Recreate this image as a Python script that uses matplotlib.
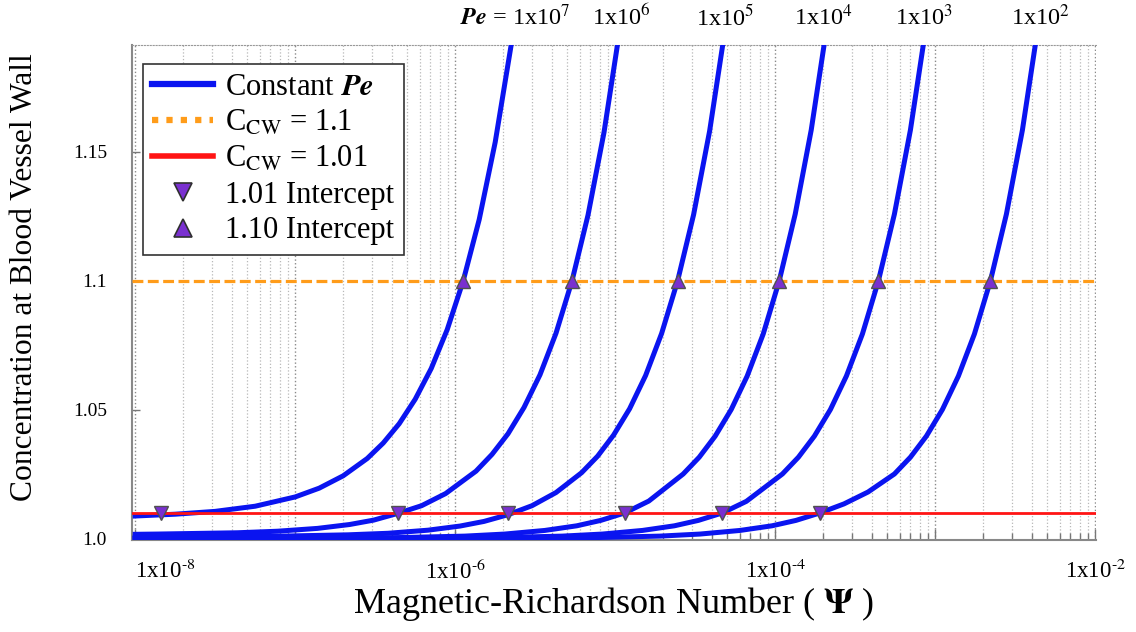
import numpy as np
import matplotlib
matplotlib.use('Agg')
import matplotlib.pyplot as plt
from matplotlib.lines import Line2D
from matplotlib.ticker import FixedLocator, NullFormatter

plt.rcParams['font.family'] = ['Liberation Serif', 'DejaVu Serif']
plt.rcParams['mathtext.fontset'] = 'stix'

# Peclet numbers of the curves (labels on top)
pe_labels = [r'$\mathbfit{Pe}$ = 1x10$^{7}$', r'1x10$^{6}$', r'1x10$^{5}$',
             r'1x10$^{4}$', r'1x10$^{3}$', r'1x10$^{2}$']

# curves: log10(Psi) and wall concentration
lpsi_pe7 = [-8.0, -7.75, -7.5, -7.25, -7.0, -6.85, -6.7, -6.55, -6.45, -6.35, -6.25, -6.15,
            -6.05, -5.95, -5.85, -5.75, -5.65, -5.6]
c_pe7 = [1.0088, 1.0095, 1.0106, 1.0126, 1.0162, 1.0196, 1.0244, 1.0311, 1.0371, 1.0446, 1.0541, 1.066,
         1.0811, 1.100, 1.1238, 1.1538, 1.1916, 1.214]

lpsi_pe6 = [-8.0, -7.86, -7.36, -7.11, -6.86, -6.66, -6.51, -6.36, -6.21, -6.06, -5.87, -5.77,
            -5.67, -5.57, -5.47, -5.37, -5.27, -5.17, -5.07, -4.97]
c_pe6 = [1.0017, 1.0018, 1.0023, 1.0029, 1.0040, 1.0055, 1.0072, 1.0098, 1.0128, 1.0175, 1.0262, 1.0327,
         1.0407, 1.0509, 1.0636, 1.0797, 1.1000, 1.1255, 1.1576, 1.1980]

lpsi_pe5 = [-8.0, -7.17, -6.67, -6.42, -6.17, -5.97, -5.82, -5.67, -5.52, -5.37, -5.21, -5.11,
            -5.01, -4.91, -4.81, -4.71, -4.61, -4.51, -4.41, -4.31]
c_pe5 = [1.0006, 1.0009, 1.0015, 1.0021, 1.0033, 1.0049, 1.0067, 1.0093, 1.0128, 1.0179, 1.0256, 1.0320,
         1.0402, 1.0504, 1.0633, 1.0796, 1.1000, 1.1257, 1.1581, 1.1989]

lpsi_pe4 = [-8.0, -6.44, -5.94, -5.69, -5.44, -5.24, -5.09, -4.94, -4.79, -4.575, -4.475,
            -4.375, -4.275, -4.175, -4.075, -3.975, -3.875, -3.775, -3.675]
c_pe4 = [1.0001, 1.0003, 1.0010, 1.0018, 1.0032, 1.0050, 1.0071, 1.0100, 1.0146, 1.0251, 1.0316,
         1.0398, 1.0501, 1.0631, 1.0794, 1.1000, 1.1259, 1.1585, 1.1995]

lpsi_pe3 = [-8.0, -5.83, -5.33, -5.08, -4.83, -4.63, -4.48, -4.33, -4.18, -3.955, -3.855,
            -3.755, -3.655, -3.555, -3.455, -3.355, -3.255, -3.155, -3.055]
c_pe3 = [1.0000, 1.0003, 1.0010, 1.0018, 1.0032, 1.0050, 1.0071, 1.0100, 1.0145, 1.0251, 1.0316,
         1.0398, 1.0501, 1.0631, 1.0794, 1.1000, 1.1259, 1.1585, 1.1995]

lpsi_pe2 = [-8.0, -5.22, -4.72, -4.47, -4.22, -4.02, -3.87, -3.72, -3.57, -3.42, -3.255, -3.155,
            -3.055, -2.955, -2.855, -2.755, -2.655, -2.555, -2.455, -2.355]
c_pe2 = [1.0000, 1.0003, 1.0010, 1.0018, 1.0032, 1.0050, 1.0071, 1.0100, 1.0135, 1.0181, 1.0251, 1.0316,
         1.0398, 1.0501, 1.0631, 1.0794, 1.1000, 1.1259, 1.1585, 1.1995]

curves = [(lpsi_pe7, c_pe7), (lpsi_pe6, c_pe6), (lpsi_pe5, c_pe5),
          (lpsi_pe4, c_pe4), (lpsi_pe3, c_pe3), (lpsi_pe2, c_pe2)]

# intercepts (log10 Psi)
lpsi_101 = [-7.84, -6.36, -5.67, -4.94, -4.33, -3.72]
lpsi_110 = [-5.95, -5.27, -4.61, -3.975, -3.355, -2.655]
c_low = 1.01
c_high = 1.1

# label positions along top (log10 Psi)
label_pos = [-5.625, -4.96, -4.31, -3.70, -3.07, -2.34]

blue = '#0a14f0'
orange = '#ff9c1a'
red = '#ff1414'
purple = '#7a30d0'

fig = plt.figure(figsize=(11.36, 6.32), dpi=100)
ax = fig.add_axes([0.1162, 0.1456, 0.8486, 0.7832])

for lp, c in curves:
    ax.plot(10.0 ** np.array(lp), c, color=blue, lw=3.6, solid_joinstyle='round', zorder=3)

ax.axhline(c_high, color=orange, lw=2.3, dashes=(3.4, 1.4), zorder=4)
ax.axhline(c_low, color=red, lw=2.0, zorder=4)

ax.plot(10.0 ** np.array(lpsi_101), [c_low] * len(lpsi_101), ls='none', marker='v', ms=10,
        mfc=purple, mec='#505050', mew=1.0, zorder=5)
ax.plot(10.0 ** np.array(lpsi_110), [c_high] * len(lpsi_110), ls='none', marker='^', ms=10,
        mfc=purple, mec='#505050', mew=1.0, zorder=5)

ax.set_xscale('log')
ax.set_xlim(10 ** -8.02, 10 ** -1.995)
ax.set_ylim(0.9995, 1.1915)

decades = [10.0 ** k for k in range(-8, -1)]
ax.xaxis.set_major_locator(FixedLocator(decades))
minors = [m * 10.0 ** k for k in range(-9, -2) for m in range(2, 10)]
ax.xaxis.set_minor_locator(FixedLocator(minors))
ax.xaxis.set_minor_formatter(NullFormatter())
xlabels = [r'1x10$^{\text{-}8}$', '', r'1x10$^{\text{-}6}$', '', r'1x10$^{\text{-}4}$', '',
           r'1x10$^{\text{-}2}$']
ax.set_xticklabels(xlabels)
ax.get_xticklabels()[0].set_ha('left')

ax.set_yticks([1.0, 1.05, 1.1, 1.15])
ax.set_yticklabels(['1.0', '1.05', '1.1', '1.15'])

ax.tick_params(axis='x', which='major', direction='in', length=8, width=1, color='#777',
               labelsize=16.5, pad=14)
ax.tick_params(axis='x', which='minor', direction='in', length=5, width=1, color='#777')
ax.tick_params(axis='y', direction='in', length=6, width=1, color='#777', labelsize=14, pad=18)

ax.grid(True, which='major', axis='x', ls=':', color='#8a8a8a', lw=1.0)
ax.grid(True, which='minor', axis='x', ls=':', color='#b8b8b8', lw=0.9)

ax.spines['right'].set_visible(False)
ax.spines['top'].set_linestyle(':')
ax.spines['top'].set_color('#999')
for s in ['left', 'bottom']:
    ax.spines[s].set_color('#888')
    ax.spines[s].set_linewidth(1.5)

for pos, lab in zip(label_pos, pe_labels):
    ax.text(10.0 ** pos, 1.055, lab, transform=ax.get_xaxis_transform(),
            ha='center', va='center', fontsize=17.5)

fig.text(614 / 1136, 1 - 604 / 632, r'Magnetic-Richardson Number ( $\mathbf{\Psi}$ )',
         ha='center', va='center', fontsize=26)
fig.text(25 / 1136, 1 - 277 / 632, 'Concentration at Blood Vessel Wall',
         ha='center', va='center', rotation=90, fontsize=22.7)

handles = [
    Line2D([], [], color=blue, lw=4.5),
    Line2D([], [], color=orange, lw=4.5, dashes=(1.0, 1.3)),
    Line2D([], [], color=red, lw=4.0),
    Line2D([], [], ls='none', marker='v', ms=13, mfc=purple, mec='#303030', mew=1.2),
    Line2D([], [], ls='none', marker='^', ms=13, mfc=purple, mec='#303030', mew=1.2),
]
names = [r'Constant $\mathbfit{Pe}$', r'C$_{\mathrm{CW}}$ = 1.1', r'C$_{\mathrm{CW}}$ = 1.01',
         '1.01 Intercept', '1.10 Intercept']
leg = ax.legend(handles, names, loc='upper left', bbox_to_anchor=(0.0114, 0.9616),
                borderaxespad=0, fontsize=22, labelspacing=0.22, handlelength=2.0,
                handletextpad=0.4, borderpad=0.3, fancybox=False, framealpha=1)
leg.get_frame().set_edgecolor('#333')
leg.get_frame().set_linewidth(1.2)

fig.savefig('out.png', dpi=100)
